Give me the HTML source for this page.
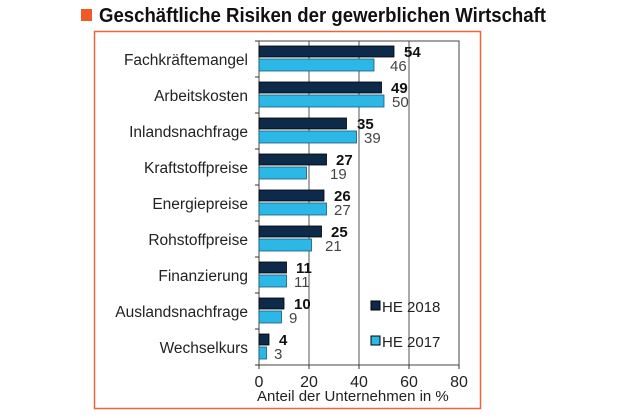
<!DOCTYPE html>
<html><head><meta charset="utf-8"><style>
body{margin:0;background:#fff;width:620px;height:413px;overflow:hidden;font-family:"Liberation Sans",sans-serif}
</style></head><body>
<svg width="620" height="413" xmlns="http://www.w3.org/2000/svg" font-family="Liberation Sans, sans-serif">
<rect x="81" y="9" width="11" height="12" fill="#f05a28"/>
<text x="99" y="22" font-size="20" font-weight="bold" fill="#111" textLength="447" lengthAdjust="spacingAndGlyphs">Geschäftliche Risiken der gewerblichen Wirtschaft</text>
<rect x="94.5" y="31.5" width="386" height="377" fill="none" stroke="#f0643c" stroke-width="1.5"/>
<g stroke="#555" stroke-width="1">
<line x1="309" y1="41" x2="309" y2="365"/><line x1="359" y1="41" x2="359" y2="365"/><line x1="409" y1="41" x2="409" y2="365"/>
<rect x="259" y="41" width="200" height="324" fill="none" stroke="#444"/>
</g>
<g stroke="#000" stroke-width="0.8" fill="#0d2a4a">
<rect x="259" y="46" width="135" height="11"/>
<rect x="259" y="82" width="122.5" height="11"/>
<rect x="259" y="118" width="87.5" height="11"/>
<rect x="259" y="154" width="67.5" height="11"/>
<rect x="259" y="190" width="65" height="11"/>
<rect x="259" y="226" width="62.5" height="11"/>
<rect x="259" y="262" width="27.5" height="11"/>
<rect x="259" y="298" width="25" height="11"/>
<rect x="259" y="334" width="10" height="11"/>
</g>
<g stroke="#1a5a78" stroke-width="0.8" fill="#2bb8e6">
<rect x="259" y="59" width="115" height="12"/>
<rect x="259" y="95" width="125" height="12"/>
<rect x="259" y="131" width="97.5" height="12"/>
<rect x="259" y="167" width="47.5" height="12"/>
<rect x="259" y="203" width="67.5" height="12"/>
<rect x="259" y="239" width="52.5" height="12"/>
<rect x="259" y="275" width="27.5" height="12"/>
<rect x="259" y="311" width="22.5" height="12"/>
<rect x="259" y="347" width="7.5" height="12"/>
</g>
<g font-size="15" font-weight="bold" fill="#111">
<text x="404" y="57">54</text><text x="391" y="93">49</text><text x="357" y="129">35</text><text x="336" y="165">27</text><text x="334" y="201">26</text><text x="331" y="237">25</text><text x="296" y="273">11</text><text x="294" y="309">10</text><text x="279" y="345">4</text>
</g>
<g font-size="15" fill="#444">
<text x="390" y="71">46</text><text x="392" y="107">50</text><text x="364" y="143">39</text><text x="330" y="179">19</text><text x="334" y="215">27</text><text x="325" y="251">21</text><text x="294" y="287">11</text><text x="289" y="323">9</text><text x="274" y="359">3</text>
</g>
<g stroke="#333">
<line x1="255" y1="41" x2="259" y2="41"/><line x1="255" y1="77" x2="259" y2="77"/><line x1="255" y1="113" x2="259" y2="113"/><line x1="255" y1="149" x2="259" y2="149"/><line x1="255" y1="185" x2="259" y2="185"/><line x1="255" y1="221" x2="259" y2="221"/><line x1="255" y1="257" x2="259" y2="257"/><line x1="255" y1="293" x2="259" y2="293"/><line x1="255" y1="329" x2="259" y2="329"/><line x1="255" y1="365" x2="259" y2="365"/>
<line x1="259" y1="365" x2="259" y2="369"/><line x1="309" y1="365" x2="309" y2="369"/><line x1="359" y1="365" x2="359" y2="369"/><line x1="409" y1="365" x2="409" y2="369"/><line x1="459" y1="365" x2="459" y2="369"/>
</g>
<g font-size="16" fill="#222" text-anchor="middle">
<text x="259" y="387">0</text><text x="309" y="387">20</text><text x="359" y="387">40</text><text x="409" y="387">60</text><text x="459" y="387">80</text>
</g>
<text x="257" y="401" font-size="15" fill="#222">Anteil der Unternehmen  in %</text>
<rect x="371" y="301" width="9" height="9" fill="#0d2a4a" stroke="#000"/>
<text x="382" y="312" font-size="15" fill="#222">HE 2018</text>
<rect x="371" y="336" width="9" height="9" fill="#2bb8e6" stroke="#000"/>
<text x="382" y="347" font-size="15" fill="#222">HE 2017</text>
<g font-size="15.5" fill="#222" text-anchor="end">
<text x="248" y="65">Fachkräftemangel</text>
<text x="248" y="101">Arbeitskosten</text>
<text x="248" y="137">Inlandsnachfrage</text>
<text x="248" y="173">Kraftstoffpreise</text>
<text x="248" y="209">Energiepreise</text>
<text x="248" y="245">Rohstoffpreise</text>
<text x="248" y="281">Finanzierung</text>
<text x="248" y="317">Auslandsnachfrage</text>
<text x="248" y="353">Wechselkurs</text>
</g>
</svg>
</body></html>
